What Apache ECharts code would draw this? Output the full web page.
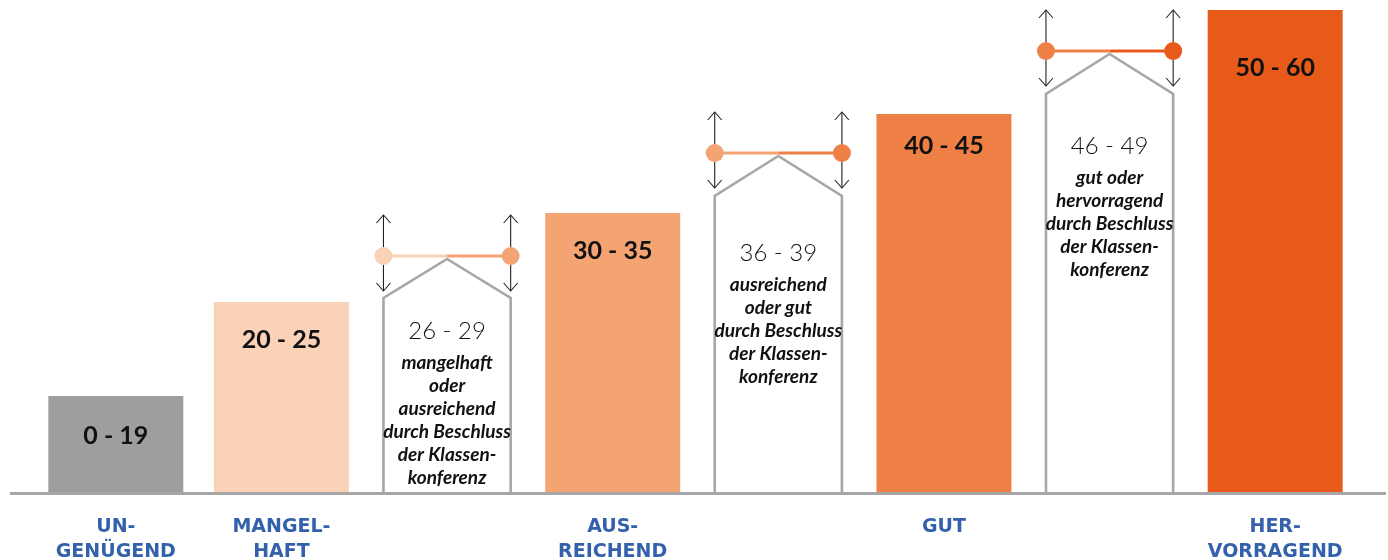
<!DOCTYPE html>
<html>
<head>
<meta charset="utf-8">
<script src="https://cdn.jsdelivr.net/npm/echarts@6/dist/echarts.min.js"></script>
<style>
  html, body { margin: 0; padding: 0; background: #ffffff; }
  #chart { width: 1388px; height: 560px; }
</style>
</head>
<body>
<div id="chart"></div>
<script>
// Notenstufen (x-Achse); die Zwischenstufen tragen keine eigene Beschriftung
const grades = ['UN-\nGENÜGEND', 'MANGEL-\nHAFT', '', 'AUS-\nREICHEND', '', 'GUT', '', 'HER-\nVORRAGEND'];

// Punktbereiche der festen Notenstufen und die Säulenhöhe
const barRanges = ['0 - 19', '20 - 25', null, '30 - 35', null, '40 - 45', null, '50 - 60'];
const barHeights = [97, 191, null, 280, null, 379, null, 483];

// Grenzbereiche zwischen zwei Stufen (Entscheidung der Klassenkonferenz)
const bridgeSlots = [2, 4, 6];
const bridgeRanges = ['26 - 29', '36 - 39', '46 - 49'];
const bridgeNotes = [
  ['mangelhaft', 'oder', 'ausreichend', 'durch Beschluss', 'der Klassen-', 'konferenz'],
  ['ausreichend', 'oder gut', 'durch Beschluss', 'der Klassen-', 'konferenz'],
  ['gut oder', 'hervorragend', 'durch Beschluss', 'der Klassen-', 'konferenz']
];
const bridgeWall = [195, 297, 399];
const bridgePeak = [234, 337, 439];

// Farben und Abstände
const barColors = ['#9e9e9e', '#fad2b8', null, '#f4a473', null, '#ef8045', null, '#e85a1a'];
const labelGaps = [27, 25, null, 25, null, 19, null, 45];
const rangeGaps = [33, 57, 52];
const frameColor = '#a7a7a7';
const gradeColor = '#3461ac';
const ink = '#111111';

const chart = echarts.init(document.getElementById('chart'), null, { renderer: 'canvas' });

const barData = barHeights.map((v, i) => v == null ? '-' : {
  value: v,
  itemStyle: { color: barColors[i] },
  label: {
    show: true,
    formatter: barRanges[i],
    position: 'insideTop',
    distance: labelGaps[i]
  }
});

const bridgeData = bridgeSlots.map((slot, i) => [slot, bridgeWall[i], bridgePeak[i]]);

function arrow(x, y1, y2) {
  const hw = 7, hd = 8;
  const st = { stroke: '#222222', lineWidth: 1.1, fill: null };
  return [
    { type: 'line', shape: { x1: x, y1: y1, x2: x, y2: y2 }, style: st },
    { type: 'polyline', shape: { points: [[x - hw, y1 + hd], [x, y1], [x + hw, y1 + hd]] }, style: st },
    { type: 'polyline', shape: { points: [[x - hw, y2 - hd], [x, y2], [x + hw, y2 - hd]] }, style: st }
  ];
}

function renderBridge(params, api) {
  const i = params.dataIndex;
  const slot = api.value(0);
  const base = api.coord([slot, 0]);
  const wall = api.coord([slot, api.value(1)]);
  const peak = api.coord([slot, api.value(2)]);
  const band = api.size([1, 0])[0];
  const w = band * 0.768;
  const cx = base[0];
  const xl = cx - w / 2, xr = cx + w / 2;
  const lineY = peak[1] - 3;
  const leftColor = barColors[slot - 1];
  const rightColor = barColors[slot + 1];
  const rangeY = wall[1] + rangeGaps[i];

  const children = [
    {
      type: 'polyline',
      shape: { points: [[xl, base[1]], [xl, wall[1]], [cx, peak[1]], [xr, wall[1]], [xr, base[1]]] },
      style: { stroke: frameColor, lineWidth: 2.6, fill: null }
    },
    ...arrow(xl, lineY - 41, lineY + 35),
    ...arrow(xr, lineY - 41, lineY + 35),
    { type: 'line', shape: { x1: xl, y1: lineY, x2: cx, y2: lineY }, style: { stroke: leftColor, lineWidth: 3 } },
    { type: 'line', shape: { x1: cx, y1: lineY, x2: xr, y2: lineY }, style: { stroke: rightColor, lineWidth: 3 } },
    { type: 'circle', shape: { cx: xl, cy: lineY, r: 9 }, style: { fill: leftColor } },
    { type: 'circle', shape: { cx: xr, cy: lineY, r: 9 }, style: { fill: rightColor } },
    {
      type: 'text',
      style: {
        text: bridgeRanges[i], x: cx, y: rangeY,
        align: 'center', verticalAlign: 'middle',
        fill: ink, font: '300 24px Lato'
      }
    },
    {
      type: 'text',
      style: {
        text: bridgeNotes[i].join('\n'), x: cx, y: rangeY + 20,
        align: 'center', verticalAlign: 'top', lineHeight: 23,
        fill: ink, font: 'italic bold 19px Lato'
      }
    }
  ];
  return { type: 'group', children: children };
}

chart.setOption({
  animation: false,
  backgroundColor: '#ffffff',
  grid: { left: 33, right: 30, top: 7, bottom: 67, outerBoundsMode: 'none', containLabel: false },
  xAxis: {
    type: 'category',
    data: grades,
    boundaryGap: true,
    axisLine: { show: false },
    axisTick: { show: false },
    axisLabel: {
      interval: 0,
      margin: 22,
      color: gradeColor,
      fontFamily: 'DejaVu Sans',
      fontWeight: 'bold',
      fontSize: 19,
      lineHeight: 25
    }
  },
  yAxis: {
    type: 'value',
    min: 0,
    max: 486,
    show: false,
    splitLine: { show: false }
  },
  series: [
    {
      type: 'bar',
      data: barData,
      barWidth: '81.5%',
      label: {
        color: ink,
        fontFamily: 'Lato',
        fontWeight: 'bold',
        fontSize: 25
      }
    },
    {
      type: 'custom',
      data: bridgeData,
      renderItem: renderBridge,
      z: 3
    }
  ]
});

// Grundlinie über die ganze Breite
const baseY = chart.convertToPixel({ yAxisIndex: 0 }, 0);
chart.setOption({
  graphic: [{
    type: 'line',
    shape: { x1: 10, y1: baseY + 0.5, x2: chart.getWidth() - 2, y2: baseY + 0.5 },
    style: { stroke: frameColor, lineWidth: 3 },
    z: 10
  }]
});
</script>
</body>
</html>
